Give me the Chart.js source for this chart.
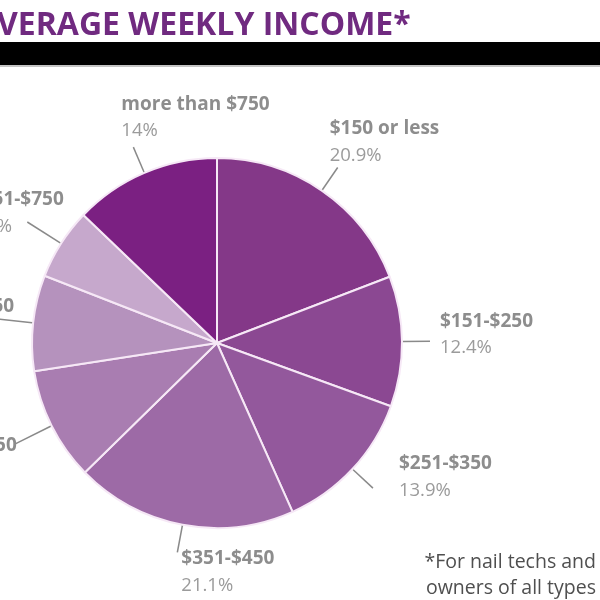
<!DOCTYPE html>
<html>
<head>
<meta charset="utf-8">
<script src="https://cdn.jsdelivr.net/npm/chart.js@4.4.0/dist/chart.umd.min.js"></script>
<style>
    html, body { margin: 0; padding: 0; background: #fff; overflow: hidden; }
    #wrap { position: relative; width: 600px; height: 600px; }
</style>
</head>
<body>
<div id="wrap"><canvas id="income-pie" width="600" height="600"></canvas></div>
<script>
// Values (the three cropped slices are estimated from their angles)
const incomeRanges = ["$150 or less", "$151-$250", "$251-$350", "$351-$450", "$451-$550", "$551-$650", "$651-$750", "more than $750"];
const sharePercent = [20.9, 12.4, 13.9, 21.1, 10.8, 9.1, 6.8, 14];
const chartTitle = "AVERAGE WEEKLY INCOME*";
const footnoteLines = ["*For nail techs and", "owners of all types"];

// Styles
const sliceColors = ["#843888", "#8b4892", "#93589c", "#9d6aa6", "#a97db1", "#b592bd", "#c6a8cc", "#7b2082"];
const nameFont = "700 19px 'Open Sans'";
const pctFont = "400 18.5px 'Open Sans'";

// Title and black rule at the top. The original graphic is cropped on the left,
// so the first letter of the title falls off the canvas.
const headerPlugin = {
    id: "header",
    beforeDraw(chart) {
        const ctx = chart.ctx;
        ctx.save();
        ctx.font = "700 32px 'Open Sans'";
        ctx.fillStyle = "#702a80";
        ctx.textBaseline = "alphabetic";
        const lead = ctx.measureText(chartTitle.slice(0, 2)).width - ctx.measureText(chartTitle[1]).width;
        ctx.fillText(chartTitle, -lead - 3, 35);

        ctx.fillStyle = "#000";
        ctx.fillRect(0, 42, chart.width, 23);
        ctx.fillStyle = "#c4c4c4";
        ctx.fillRect(0, 65, chart.width, 2);
        ctx.restore();
    },
    afterDraw(chart) {
        const ctx = chart.ctx;
        ctx.save();
        ctx.font = "400 19.5px 'Open Sans'";
        ctx.fillStyle = "#4f4f4f";
        ctx.textAlign = "right";
        ctx.textBaseline = "middle";
        footnoteLines.forEach((line, i) => ctx.fillText(line, 596, 562 + i * 26));
        ctx.restore();
    },
};

// Leader lines and two-line labels outside each slice
const calloutPlugin = {
    id: "callouts",
    afterDatasetsDraw(chart) {
        const ctx = chart.ctx;
        const meta = chart.getDatasetMeta(0);
        ctx.save();
        meta.data.forEach((arc, i) => {
            const { x, y, startAngle, endAngle, outerRadius } = arc.getProps(["x", "y", "startAngle", "endAngle", "outerRadius"], true);
            const mid = (startAngle + endAngle) / 2;
            const deg = (((mid * 180) / Math.PI + 90) % 360 + 360) % 360; // clockwise from 12 o'clock
            const onLeft = deg > 220 && deg < 320;
            const len = onLeft ? 40 : 28;
            const cos = Math.cos(mid);
            const sin = Math.sin(mid);
            const px = x + cos * (outerRadius + len);
            const py = y + sin * (outerRadius + len);

            ctx.strokeStyle = "#8a8a8a";
            ctx.lineWidth = 1.5;
            ctx.beginPath();
            ctx.moveTo(x + cos * (outerRadius + 1), y + sin * (outerRadius + 1));
            ctx.lineTo(px, py);
            ctx.stroke();

            const name = incomeRanges[i];
            const pct = sharePercent[i] + "%";
            ctx.font = nameFont;
            const nameWidth = ctx.measureText(name).width;

            // place the label block depending on which side of the pie it is on
            let tx, ty;
            if (deg < 60) {
                tx = px - 8;
                ty = py - 39;
            } else if (deg >= 320) {
                tx = px - 12;
                ty = py - 43;
            } else if (deg < 110) {
                tx = px + 10;
                ty = py - 20;
            } else if (deg < 170) {
                tx = px + 26;
                ty = py - 24;
            } else if (deg < 220) {
                tx = px + 4;
                ty = py + 6;
            } else {
                tx = px + 17 + (deg - 270) * 0.6 - nameWidth;
                ty = py - 9 - (deg - 270) * 0.4;
            }

            ctx.textAlign = "left";
            ctx.textBaseline = "middle";
            ctx.fillStyle = "#8d8d8d";
            ctx.fillText(name, tx, ty);
            ctx.font = pctFont;
            ctx.fillStyle = "#9b9b9b";
            ctx.fillText(pct, tx, ty + 27);
        });
        ctx.restore();
    },
};

const ctx = document.getElementById("income-pie").getContext("2d");
new Chart(ctx, {
    type: "pie",
    data: {
        labels: incomeRanges,
        datasets: [
            {
                data: sharePercent,
                backgroundColor: sliceColors,
                borderColor: "#f6e8f6",
                borderWidth: 2,
            },
        ],
    },
    options: {
        responsive: false,
        animation: false,
        layout: {
            padding: { left: 31, right: 197, top: 157, bottom: 71 },
        },
        plugins: {
            legend: { display: false },
            tooltip: { enabled: false },
            title: { display: false },
        },
    },
    plugins: [headerPlugin, calloutPlugin],
});
</script>
</body>
</html>
